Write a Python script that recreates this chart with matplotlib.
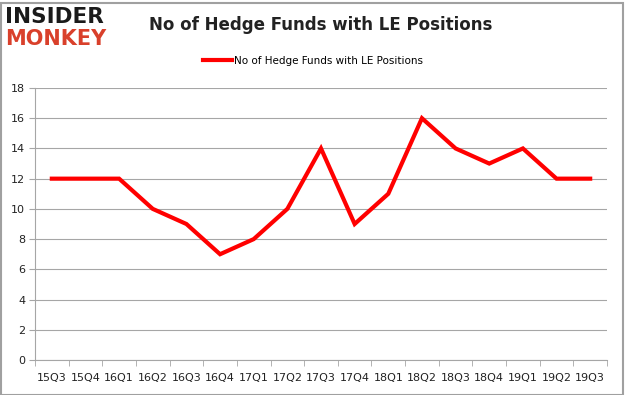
import matplotlib
matplotlib.use("Agg")
import matplotlib.pyplot as plt
from matplotlib.patches import Rectangle

quarters = ["15Q3", "15Q4", "16Q1", "16Q2", "16Q3", "16Q4", "17Q1", "17Q2", "17Q3",
            "17Q4", "18Q1", "18Q2", "18Q3", "18Q4", "19Q1", "19Q2", "19Q3"]
funds = [12, 12, 12, 10, 9, 7, 8, 10, 14, 9, 11, 16, 14, 13, 14, 12, 12]
yticks = [0, 2, 4, 6, 8, 10, 12, 14, 16, 18]
series_name = "No of Hedge Funds with LE Positions"

W, H = 625, 395
fig = plt.figure(figsize=(W / 100, H / 100), dpi=100)
fig.patch.set_facecolor("white")

# outer border
fig.add_artist(Rectangle((0.5 / W, 0.5 / H), (W - 3) / W, (H - 3) / H,
                         transform=fig.transFigure, fill=False,
                         edgecolor="#a0a0a0", linewidth=1.5))

left, right, top, bottom = 35, 607, 88, 360
ax = fig.add_axes([left / W, 1 - bottom / H, (right - left) / W, (bottom - top) / H])

x = list(range(len(quarters)))
ax.plot(x, funds, color="#ff0000", linewidth=3, label=series_name, solid_joinstyle="miter")

ax.set_xlim(-0.5, len(quarters) - 0.5)
ax.set_ylim(0, 18)
ax.set_yticks(yticks)
ax.set_yticklabels([str(v) for v in yticks], fontsize=8, color="#222222")
ax.set_xticks(x)
ax.set_xticklabels(quarters, fontsize=8, color="#222222")
ax.set_xticks([i - 0.5 for i in range(len(quarters) + 1)], minor=True)

ax.grid(axis="y", color="#a6a6a6", linewidth=0.8)
ax.set_axisbelow(True)
for s in ["top", "right"]:
    ax.spines[s].set_visible(False)
for s in ["left", "bottom"]:
    ax.spines[s].set_color("#a6a6a6")
    ax.spines[s].set_linewidth(0.8)
ax.tick_params(axis="x", which="major", length=0, pad=9)
ax.tick_params(axis="x", which="minor", length=4, color="#a6a6a6")
ax.tick_params(axis="y", length=4, color="#a6a6a6", pad=3)

fig.text(0.5 + 8 / W, 1 - 25 / H, series_name, ha="center", va="center",
         fontsize=12, fontweight="bold", color="#222222")

ax.legend(loc="center", bbox_to_anchor=((313 - left) / (right - left), 1 + (top - 61) / (bottom - top)),
          frameon=False, fontsize=7.5, handlelength=2.8, handletextpad=0.2,
          borderaxespad=0)

# logo
fig.text(5 / W, 1 - 17 / H, "INSIDER", fontsize=15.5, fontweight="heavy",
         color="#1a1a1a", ha="left", va="center", family="DejaVu Sans")
fig.text(5 / W, 1 - 39 / H, "MONKEY", fontsize=15, fontweight="heavy",
         color="#d9402b", ha="left", va="center", family="DejaVu Sans")

fig.savefig("out.png", dpi=100, facecolor="white")
